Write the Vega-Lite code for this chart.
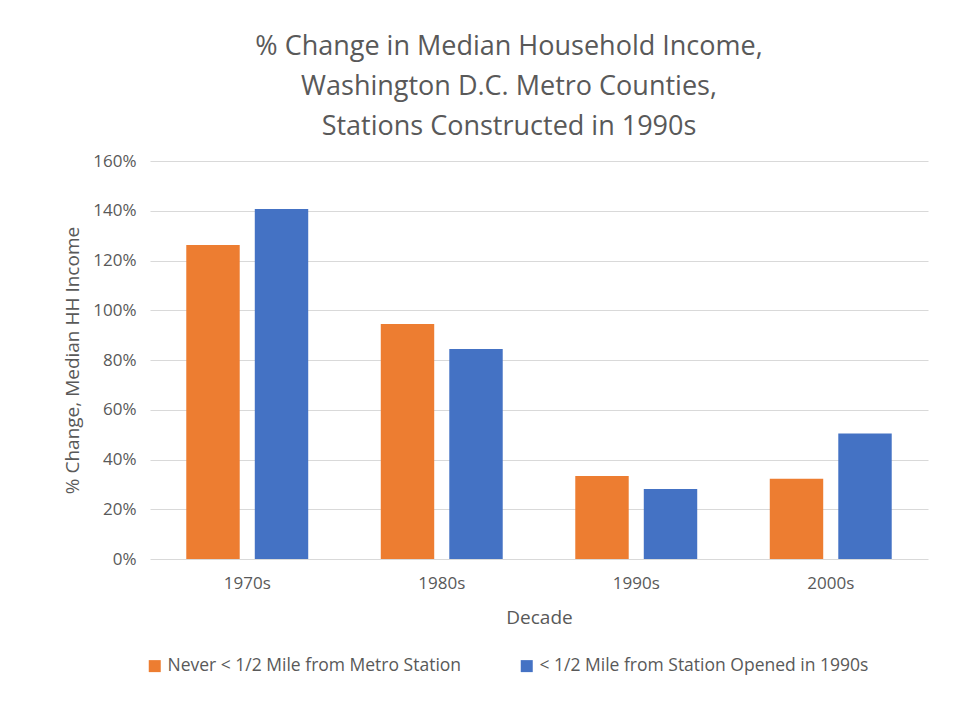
{
  "$schema": "https://vega.github.io/schema/vega-lite/v6.json",
  "autosize": "none",
  "width": 778,
  "height": 398,
  "padding": {"left": 150, "top": 161, "right": 28, "bottom": 148},
  "background": "white",
  "config": {
    "font": "Open Sans",
    "view": {"stroke": null},
    "axis": {"labelColor": "#595959", "titleColor": "#595959", "titleFontWeight": "normal", "labelFont": "Open Sans", "titleFont": "Open Sans"}
  },
  "title": {
    "text": ["% Change in Median Household Income,", "Washington D.C. Metro Counties,", "Stations Constructed in 1990s"],
    "fontSize": 27,
    "fontWeight": "normal",
    "color": "#595959",
    "font": "Open Sans",
    "lineHeight": 40,
    "anchor": "middle",
    "dx": -30,
    "offset": 11
  },
  "data": {
    "values": [
      {"Decade": "1970s", "Series": "Never < 1/2 Mile from Metro Station", "Change": 1.262},
      {"Decade": "1970s", "Series": "< 1/2 Mile from Station Opened in 1990s", "Change": 1.407},
      {"Decade": "1980s", "Series": "Never < 1/2 Mile from Metro Station", "Change": 0.945},
      {"Decade": "1980s", "Series": "< 1/2 Mile from Station Opened in 1990s", "Change": 0.844},
      {"Decade": "1990s", "Series": "Never < 1/2 Mile from Metro Station", "Change": 0.334},
      {"Decade": "1990s", "Series": "< 1/2 Mile from Station Opened in 1990s", "Change": 0.281},
      {"Decade": "2000s", "Series": "Never < 1/2 Mile from Metro Station", "Change": 0.323},
      {"Decade": "2000s", "Series": "< 1/2 Mile from Station Opened in 1990s", "Change": 0.505}
    ]
  },
  "mark": {"type": "bar"},
  "encoding": {
    "x": {
      "field": "Decade",
      "type": "nominal",
      "scale": {"paddingInner": 0.373, "paddingOuter": 0.1865},
      "axis": {"labelAngle": 0, "labelFontSize": 17, "labelPadding": 16, "title": "Decade", "titleFontSize": 19, "titlePadding": 17, "domain": false, "ticks": false, "grid": false}
    },
    "xOffset": {
      "field": "Series",
      "type": "nominal",
      "sort": ["Never < 1/2 Mile from Metro Station", "< 1/2 Mile from Station Opened in 1990s"],
      "scale": {"paddingInner": 0.22, "paddingOuter": 0}
    },
    "y": {
      "field": "Change",
      "type": "quantitative",
      "scale": {"domain": [0, 1.6], "nice": false},
      "axis": {"values": [0, 0.2, 0.4, 0.6, 0.8, 1.0, 1.2, 1.4, 1.6], "format": ".0%", "labelFontSize": 17, "labelPadding": 14, "title": "% Change, Median HH Income", "titleFontSize": 19, "titlePadding": 10, "domain": false, "ticks": false, "grid": true, "gridColor": "#d9d9d9", "gridWidth": 1}
    },
    "color": {
      "field": "Series",
      "type": "nominal",
      "sort": ["Never < 1/2 Mile from Metro Station", "< 1/2 Mile from Station Opened in 1990s"],
      "scale": {"domain": ["Never < 1/2 Mile from Metro Station", "< 1/2 Mile from Station Opened in 1990s"], "range": ["#ED7D31", "#4472C4"]},
      "legend": {
        "title": null,
        "orient": "none",
        "legendX": -4,
        "legendY": 496,
        "direction": "horizontal",
        "symbolType": "square",
        "symbolSize": 144,
        "symbolStrokeWidth": 0,
        "labelFontSize": 17.5,
        "labelColor": "#595959",
        "labelFont": "Open Sans",
        "labelOffset": 4,
        "labelLimit": 400,
        "columnPadding": 56
      }
    }
  }
}
